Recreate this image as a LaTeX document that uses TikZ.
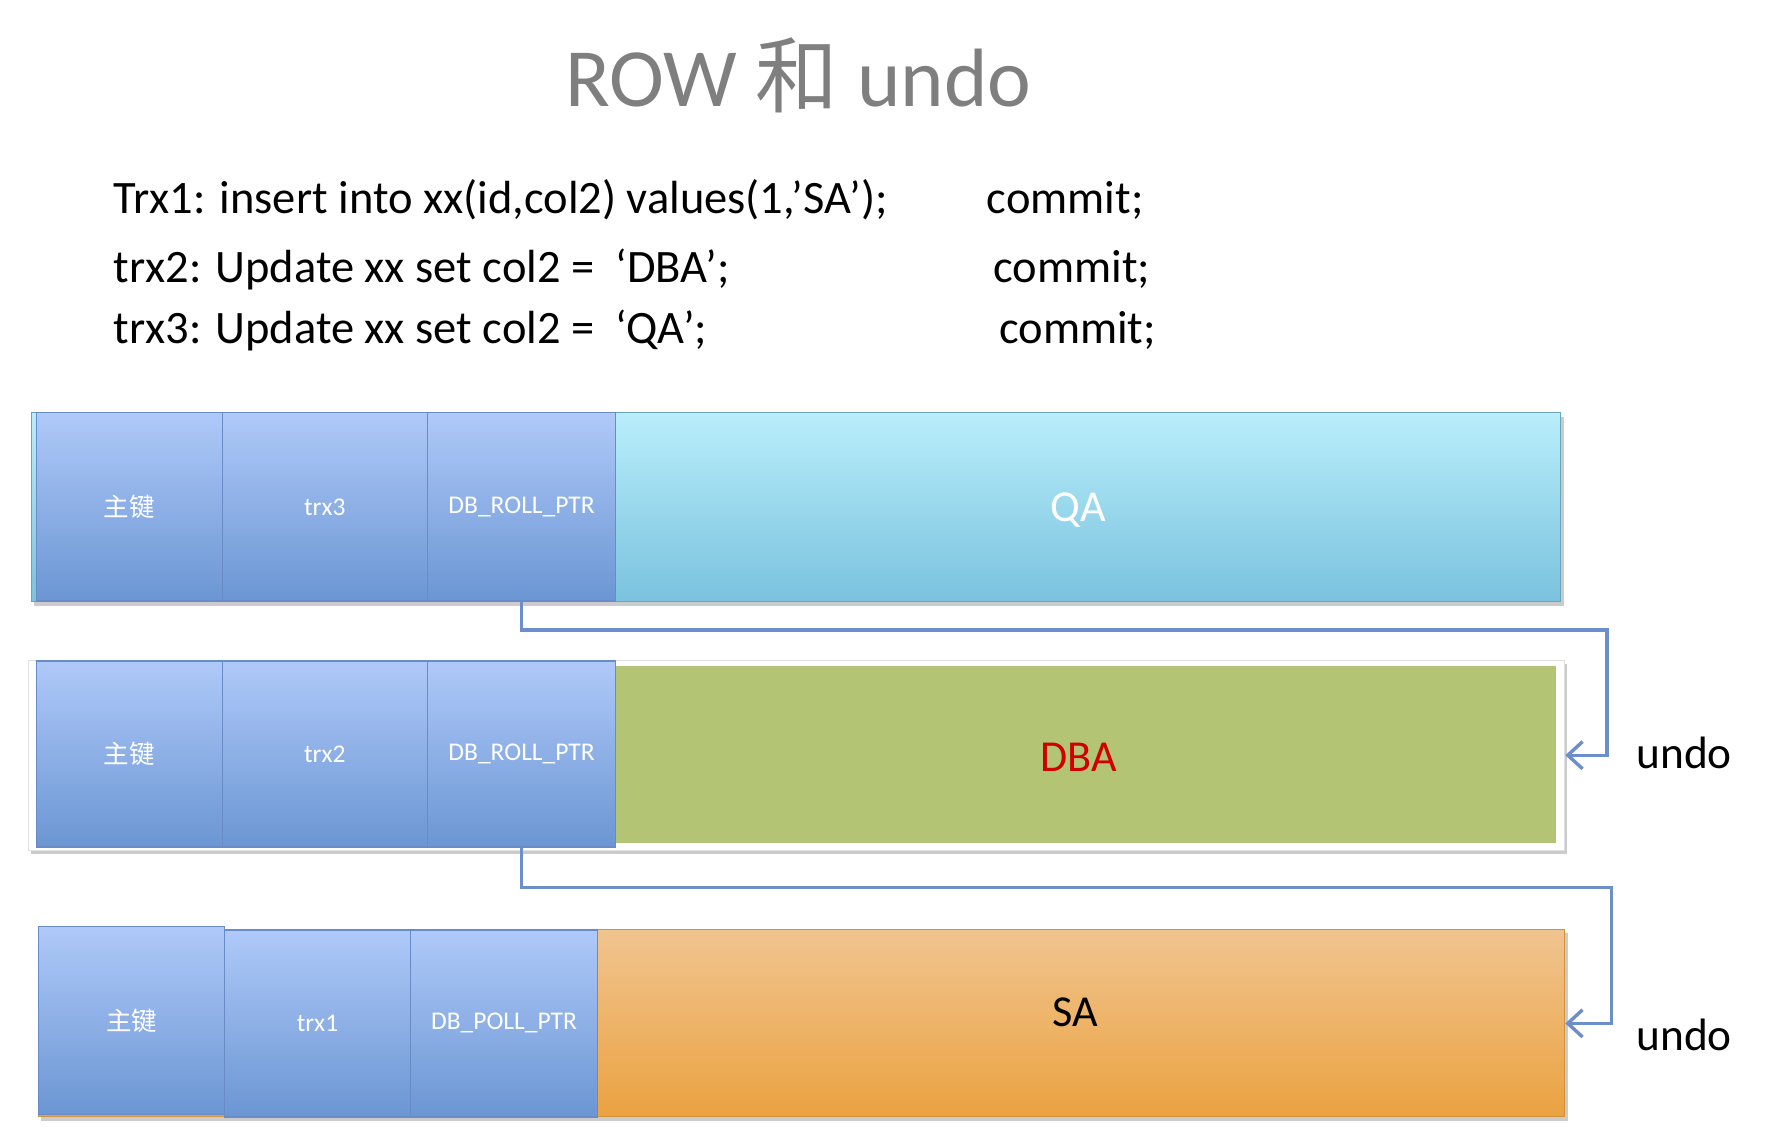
\documentclass[tikz,border=0pt]{standalone}
\usepackage{fontspec}
\setmainfont{Carlito}
\newfontfamily\cjk{Noto Sans CJK SC}
\usetikzlibrary{arrows.meta}
\definecolor{cellTop}{HTML}{AFC9F9}
\definecolor{cellBot}{HTML}{6B96D3}
\definecolor{cellLine}{HTML}{6A8CC6}
\definecolor{qaTop}{HTML}{B9EEFB}
\definecolor{qaBot}{HTML}{7AC2DE}
\definecolor{dbaFill}{HTML}{B3C575}
\definecolor{saTop}{HTML}{F0C48F}
\definecolor{saBot}{HTML}{EBA240}
\definecolor{linkBlue}{HTML}{6C8FCB}
\definecolor{titleGray}{HTML}{7F7F7F}
\definecolor{dbaRed}{HTML}{D00000}
\begin{document}
\begin{tikzpicture}[x=1pt,y=-1pt,
  cell/.style={rectangle, inner sep=0pt, top color=cellTop, bottom color=cellBot,
    draw=cellLine, line width=1.2pt, text=white, font=\fontsize{22.5}{26}\selectfont},
  qabox/.style={rectangle, inner sep=0pt, top color=qaTop, bottom color=qaBot, draw=qaBot!85!black, line width=0.8pt},
  sabox/.style={rectangle, inner sep=0pt, top color=saTop, bottom color=saBot, draw=saBot!90!black, line width=0.8pt},
  dbabox/.style={rectangle, inner sep=0pt, fill=dbaFill},
  framebox/.style={rectangle, inner sep=0pt, fill=white, draw=black!12, line width=0.8pt},
  shadowc/.style={fill=black!45, opacity=0.45},
  datatext/.style={font=\fontsize{39}{44}\selectfont, inner sep=0pt},
  codetext/.style={font=\fontsize{41}{46}\selectfont, inner sep=0pt, anchor=base west},
  link/.style={draw=linkBlue, line width=3pt, -{Straight Barb[length=13pt,width=24pt]}},
]
\useasboundingbox[fill=white] (0,0) rectangle (1568,1005);

% title and statements
\node[anchor=base, text=titleGray, font=\fontsize{73}{80}\selectfont, inner sep=0pt] (title) at (704,94) {ROW {\cjk 和} undo};
\node[codetext] (l1) at (100,188) {Trx1: insert into xx(id,col2) values(1,’SA’);};
\node[codetext] (l2) at (100,249) {trx2: Update xx set col2 =\ \ ‘DBA’;};
\node[codetext] (l3) at (100,303) {trx3: Update xx set col2 =\ \ ‘QA’;};
\node[codetext] (c1) at (870,188) {commit;};
\node[codetext] (c2) at (876,249) {commit;};
\node[codetext] (c3) at (881,303) {commit;};

% row 1
\fill[shadowc] (30,368) rectangle (1379,534);
\node[qabox, minimum width=1348pt, minimum height=166pt] (d1) at (702,447) {};
\node[cell, minimum width=164pt, minimum height=166pt] (k1) at (114,447) {\cjk 主键};
\node[cell, minimum width=181pt, minimum height=166pt] (t1) at (286.5,447) {trx3};
\node[cell, minimum width=166pt, minimum height=166pt] (p1) at (460,447) {DB\_ROLL\_PTR};
\node[datatext, text=white] (v1) at (951,450) {QA};

% row 2
\fill[shadowc] (27,586) rectangle (1382,753);
\node[framebox, minimum width=1355pt, minimum height=168pt] (f2) at (702.5,666) {};
\node[dbabox, minimum width=829pt, minimum height=156pt] (d2) at (957.5,665) {};
\node[cell, minimum width=164pt, minimum height=164pt] (k2) at (114,665) {\cjk 主键};
\node[cell, minimum width=181pt, minimum height=164pt] (t2) at (286.5,665) {trx2};
\node[cell, minimum width=166pt, minimum height=164pt] (p2) at (460,665) {DB\_ROLL\_PTR};
\node[datatext, text=dbaRed] (v2) at (951,668) {DBA};

% row 3
\fill[shadowc] (36,823) rectangle (1383,989);
\node[sabox, minimum width=1346pt, minimum height=165pt] (d3) at (707,902.5) {};
\node[cell, minimum width=164pt, minimum height=166pt] (k3) at (116,900) {\cjk 主键};
\node[cell, minimum width=164pt, minimum height=165pt] (t3) at (280,902.5) {trx1};
\node[cell, minimum width=165pt, minimum height=165pt] (p3) at (444.5,902.5) {DB\_POLL\_PTR};
\node[datatext, text=black] (v3) at (948,893) {SA};

% undo links
\coordinate (u1) at (1417,666);
\coordinate (u2) at (1421,902.5);
\draw[link] (p1.south) -- ++(0,25) -| (u1) -- (f2.east);
\draw[link] (p2.south) -- ++(0,35) -| (u2) -- (d3.east);
\node[anchor=west, font=\fontsize{40}{46}\selectfont, inner sep=0pt] (undo1) at (1443,664) {undo};
\node[anchor=west, font=\fontsize{40}{46}\selectfont, inner sep=0pt] (undo2) at (1443,913) {undo};
\end{tikzpicture}
\end{document}
